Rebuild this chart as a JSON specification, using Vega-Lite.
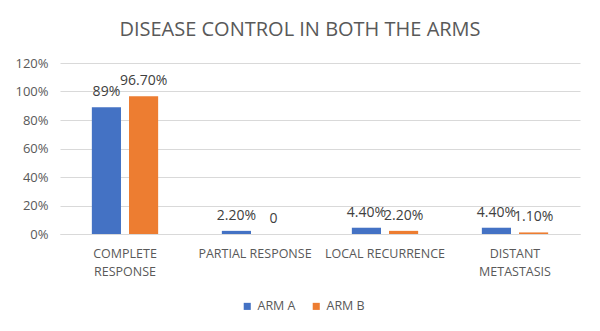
{
  "$schema": "https://vega.github.io/schema/vega-lite/v6.json",
  "width": 520,
  "height": 171,
  "autosize": {"type": "none"},
  "padding": {"left": 60, "top": 63, "right": 20, "bottom": 97},
  "background": "white",
  "title": {
    "text": "DISEASE CONTROL IN BOTH THE ARMS",
    "fontSize": 20,
    "font": "Open Sans",
    "fontWeight": "normal",
    "color": "#595959",
    "anchor": "middle",
    "dx": -20,
    "offset": 17
  },
  "data": {
    "values": [
      {"category": "COMPLETE RESPONSE", "arm": "ARM A", "value": 0.89, "label": "89%"},
      {"category": "COMPLETE RESPONSE", "arm": "ARM B", "value": 0.967, "label": "96.70%"},
      {"category": "PARTIAL RESPONSE", "arm": "ARM A", "value": 0.022, "label": "2.20%"},
      {"category": "PARTIAL RESPONSE", "arm": "ARM B", "value": 0, "label": "0"},
      {"category": "LOCAL RECURRENCE", "arm": "ARM A", "value": 0.044, "label": "4.40%"},
      {"category": "LOCAL RECURRENCE", "arm": "ARM B", "value": 0.022, "label": "2.20%"},
      {"category": "DISTANT METASTASIS", "arm": "ARM A", "value": 0.044, "label": "4.40%"},
      {"category": "DISTANT METASTASIS", "arm": "ARM B", "value": 0.011, "label": "1.10%"}
    ]
  },
  "encoding": {
    "x": {
      "field": "category",
      "type": "nominal",
      "sort": null,
      "scale": {"paddingInner": 0.49, "paddingOuter": 0.245},
      "axis": {
        "title": null,
        "labelAngle": 0,
        "ticks": false,
        "domainColor": "#D9D9D9",
        "labelColor": "#595959",
        "labelFont": "Open Sans",
        "labelFontSize": 12.5,
        "labelPadding": 13,
        "labelLineHeight": 18,
        "labelExpr": "datum.value == 'COMPLETE RESPONSE' ? ['COMPLETE', 'RESPONSE'] : datum.value == 'DISTANT METASTASIS' ? ['DISTANT', 'METASTASIS'] : datum.value"
      }
    },
    "xOffset": {
      "field": "arm",
      "type": "nominal",
      "scale": {"paddingInner": 0.216, "paddingOuter": 0}
    },
    "y": {
      "field": "value",
      "type": "quantitative",
      "scale": {"domain": [0, 1.2]},
      "axis": {
        "title": null,
        "values": [0, 0.2, 0.4, 0.6, 0.8, 1.0, 1.2],
        "format": ".0%",
        "domain": false,
        "ticks": false,
        "gridColor": "#D9D9D9",
        "labelColor": "#595959",
        "labelFont": "Open Sans",
        "labelFontSize": 13,
        "labelPadding": 12
      }
    }
  },
  "layer": [
    {
      "mark": {"type": "bar"},
      "encoding": {
        "color": {
          "field": "arm",
          "type": "nominal",
          "scale": {"domain": ["ARM A", "ARM B"], "range": ["#4472C4", "#ED7D31"]},
          "legend": {
            "title": null,
            "orient": "none",
            "legendX": 181,
            "legendY": 237,
            "direction": "horizontal",
            "symbolType": "square",
            "symbolSize": 50,
            "symbolStrokeWidth": 0,
            "labelColor": "#595959",
            "labelFont": "Open Sans",
            "labelFontSize": 12.5,
            "columnPadding": 14
          }
        }
      }
    },
    {
      "mark": {
        "type": "text",
        "baseline": "bottom",
        "dy": -8,
        "font": "Open Sans",
        "fontSize": 14,
        "color": "#404040"
      },
      "encoding": {
        "text": {"field": "label"}
      }
    }
  ],
  "config": {
    "view": {"stroke": null}
  }
}
